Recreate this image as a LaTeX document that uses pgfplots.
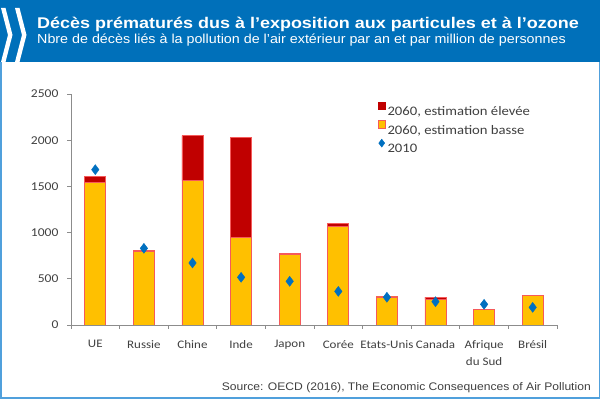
\documentclass[border=0pt]{standalone}
\usepackage{pgfplots}
\pgfplotsset{compat=1.18}
\usepackage{fontspec}
\setmainfont[FakeStretch=1.13]{Carlito}
\newfontfamily\arialT[FakeStretch=1.16]{Liberation Sans}
\newfontfamily\arialS[FakeStretch=1.1]{Liberation Sans}
\definecolor{hdr}{RGB}{0,112,186}
\definecolor{frm}{RGB}{80,160,220}
\definecolor{lowc}{RGB}{255,192,0}
\definecolor{highc}{RGB}{192,0,0}
\definecolor{edgec}{RGB}{245,90,90}
\definecolor{dia}{RGB}{0,112,192}
\definecolor{txt}{RGB}{64,64,64}
\definecolor{axc}{RGB}{140,140,140}
\pgfplotstableread{
x low high y2010
0 1540 72 1681
1 798 12 830
2 1562 487 671
3 949 1082 516
4 761 18 473
5 1064 36 364
6 304 9 300
7 281 22 252
8 173 0 224
9 317 0 191
}\data
\pgfplotsset{base/.style={
  at={(71pt,74pt)}, anchor=south west,
  scale only axis, width=486pt, height=231pt,
  xmin=-0.5, xmax=9.5, ymin=0, ymax=2500}}
\begin{document}
\begin{tikzpicture}[x=1pt,y=1pt]
\fill[white] (0,0) rectangle (600,399);
\draw[frm,line width=1.5pt] (0.75,0.75) rectangle (599.25,398.25);
\fill[hdr] (0,337) rectangle (600,399);
% logo
\fill[white] (1,391) -- (5.5,391) -- (12.5,364) -- (5.5,337) -- (1,337) -- (8,364) -- cycle;
\fill[white] (15,391) -- (19.5,391) -- (26.5,364) -- (19.5,337) -- (15,337) -- (22,364) -- cycle;
\node[anchor=base west,inner sep=0,text=white,font=\arialT\bfseries\fontsize{15.5}{18}\selectfont] at (37,370) {Décès prématurés dus à l’exposition aux particules et à l’ozone};
\node[anchor=base west,inner sep=0,text=white,font=\arialS\fontsize{13}{15}\selectfont] at (37,355) {Nbre de décès liés à la pollution de l’air extérieur par an et par million de personnes};
\node[anchor=base east,inner sep=0,text=txt,font=\arialS\fontsize{11}{14}\selectfont] at (591,8) {Source: OECD (2016), The Economic Consequences of Air Pollution};
\begin{axis}[base,
  axis x line*=bottom, axis y line*=left,
  axis line style={axc, line width=0.8pt},
  ytick={0,500,...,2500},
  xtick={0,...,9},
  xticklabels={UE,Russie,Chine,Inde,Japon,Corée,Etats-Unis,Canada,{Afrique\\du Sud},Brésil},
  minor xtick={-0.5,0.5,...,9.5},
  tick align=outside,
  major tick length=4pt, minor tick length=4pt,
  x tick style={draw=none},
  minor x tick style={draw=axc, line width=0.8pt},
  y tick style={axc, line width=0.8pt},
  ticklabel style={text=txt, font=\fontsize{12}{17}\selectfont},
  xticklabel style={align=center, anchor=north, yshift=-8pt, font=\fontsize{11.5}{17}\selectfont},
  yticklabel style={xshift=-5pt},
  /pgf/number format/assume math mode=true,
  /pgf/number format/set thousands separator={},
  ybar stacked, bar width=21pt,
  legend style={at={(rel axis cs:0.625,0.975)}, anchor=north west, draw=none, fill=none,
    font=\fontsize{13}{14}\selectfont, text=txt, row sep=1.5pt,
    /tikz/every even column/.append style={column sep=1pt}},
  legend cell align=left,
]
\addplot[fill=lowc, draw=edgec, line width=0.7pt, forget plot] table[x=x,y=low] {\data};
\addplot[fill=highc, draw=edgec, line width=0.7pt, forget plot] table[x=x,y=high] {\data};
\addlegendimage{only marks, mark=square*, mark size=3.8pt, color=highc}
\addlegendentry{2060, estimation élevée}
\addlegendimage{only marks, mark=square*, mark size=3.8pt, mark options={fill=lowc, draw=edgec}}
\addlegendentry{2060, estimation basse}
\addlegendimage{only marks, mark=diamond*, mark size=4pt, color=dia}
\addlegendentry{2010}
\end{axis}
\begin{axis}[base, hide axis]
\addplot[only marks, mark=diamond*, mark size=5pt, color=dia] table[x=x,y=y2010] {\data};
\end{axis}
\end{tikzpicture}
\end{document}
